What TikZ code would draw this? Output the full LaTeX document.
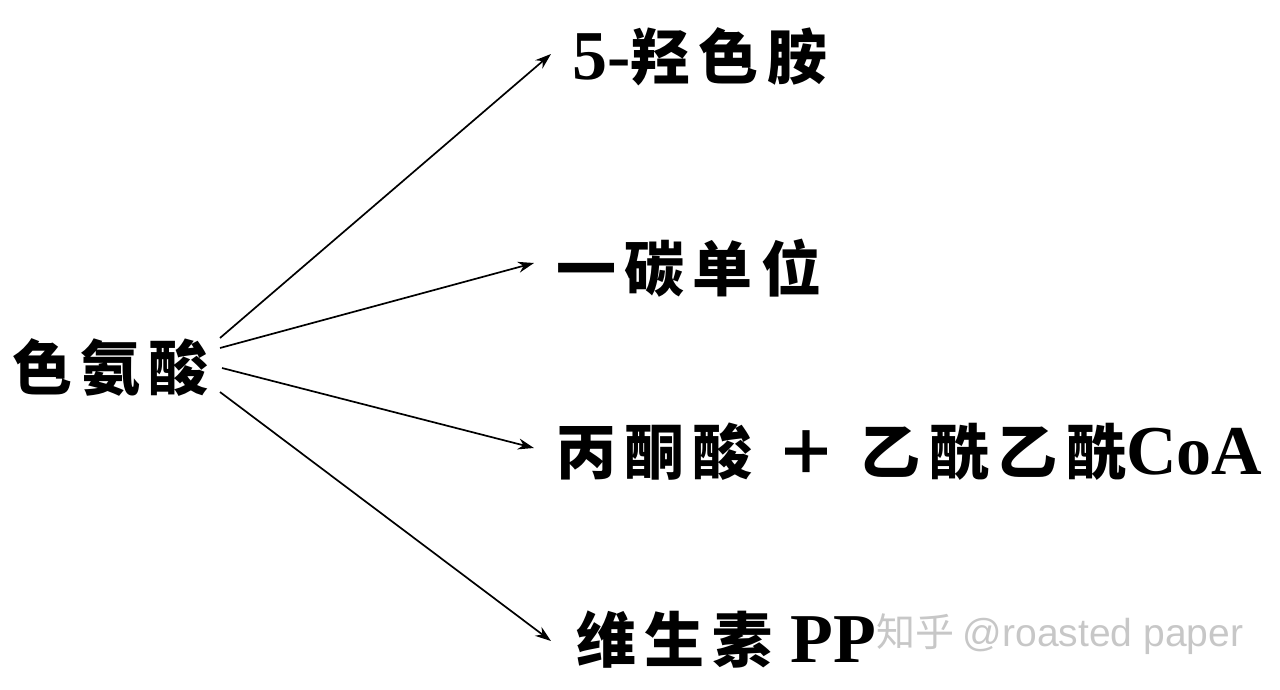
\documentclass[tikz,border=0pt]{standalone}
\usepackage{fontspec}
\setmainfont{Liberation Serif}
\newfontfamily\cjk{Noto Sans CJK SC}[LetterSpace=14]
\newfontfamily\wmsans{Liberation Sans}
\newfontfamily\wmcjk{Noto Sans CJK SC}
\usetikzlibrary{arrows.meta}
\tikzset{
  lbl/.style={anchor=west, inner sep=0pt, font=\fontsize{60}{60}\selectfont\bfseries},
  arr/.style={-{Stealth[length=16pt,width=11pt]}, line width=1.7pt},
  wm/.style={anchor=west, inner sep=0pt, text=black!22, font=\fontsize{39}{39}\selectfont}
}
\begin{document}
\begin{tikzpicture}[x=1pt,y=-1pt]
\useasboundingbox (0,0) rectangle (1280,690);
\node[lbl] (src) at (12,368) {\cjk 色氨酸};
\node[lbl] (t1) at (572,57) {\fontsize{70}{70}\selectfont 5-\cjk\fontsize{60}{60}\selectfont 羟色胺};
\node[lbl] (t2) at (556,268) {\cjk 一碳单位};
\node[lbl] (t3) at (556,452) {\cjk 丙酮酸\hspace{0.4em}＋\hspace{0.4em}乙酰乙酰\rmfamily\fontsize{70}{70}\selectfont CoA};
\node[lbl] (t4) at (576,640) {\cjk 维生素\rmfamily\fontsize{70}{70}\selectfont\ PP};
\node[wm] (wm) at (876,634) {\wmcjk 知乎\ \wmsans @roasted paper};
\coordinate (s1) at (220,338);
\coordinate (s2) at (220,348);
\coordinate (s3) at (222,368);
\coordinate (s4) at (220,392);
\coordinate (e1) at (551,54);
\coordinate (e2) at (534,263);
\coordinate (e3) at (534,448);
\coordinate (e4) at (551,641);
\draw[arr] (s1) -- (e1);
\draw[arr] (s2) -- (e2);
\draw[arr] (s3) -- (e3);
\draw[arr] (s4) -- (e4);
\end{tikzpicture}
\end{document}
